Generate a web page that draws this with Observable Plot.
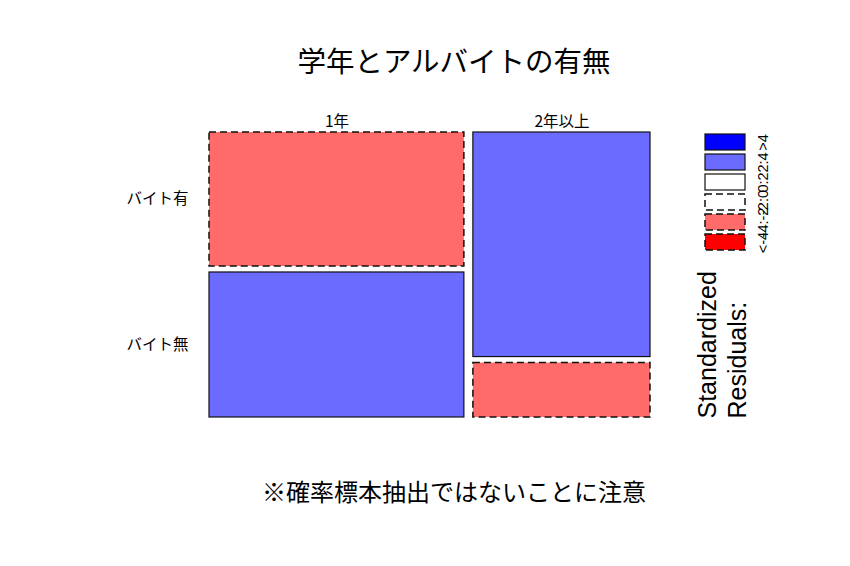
<!DOCTYPE html>
<html>
<head>
<meta charset="utf-8">
<script src="https://cdn.jsdelivr.net/npm/d3@7"></script>
<script src="https://cdn.jsdelivr.net/npm/@observablehq/plot@0.6"></script>
<style>
  body { margin: 0; background: #fff; }
  #wrap { position: relative; width: 850px; height: 566px; background: #fff; }
  .title { height: 100px; box-sizing: border-box; padding-top: 45px; padding-left: 58px;
           text-align: center; font-family: "Noto Sans CJK JP", sans-serif; font-size: 28.5px; line-height: 30px; color: #000; }
  .caption { box-sizing: border-box; padding-top: 19px; padding-left: 58px; text-align: center;
           font-family: "Noto Sans CJK JP", sans-serif; font-size: 24px; line-height: 24px; color: #000; }
</style>
</head>
<body>
<div id="wrap"></div>
<script>
// ---- data ----
const title = "学年とアルバイトの有無";
const caption = "※確率標本抽出ではないことに注意";
const years = ["1年", "2年以上"];
const jobs = ["バイト有", "バイト無"];
const withJob = [85, 99];      // バイト有 by year
const withoutJob = [92, 24];   // バイト無 by year
const legendLabels = [">4", "2:4", "0:2", "-2:0", "-4:-2", "<-4"];
const legendFills = ["#0000FF", "#6B6BFF", "#FFFFFF", "#FFFFFF", "#FF6B6B", "#FF0000"];
const legendDashed = [false, false, false, true, true, true];
const legendTitle = "Standardized\nResiduals:";

// ---- mosaic computation ----
const counts = [withJob, withoutJob];
const colTot = years.map((_, j) => d3.sum(counts, r => r[j]));
const rowTot = counts.map(r => d3.sum(r));
const N = d3.sum(colTot);
const gx = 9 / 441, gy = 6 / 285;
const cls = r => r > 4 ? ">4" : r > 2 ? "2:4" : r > 0 ? "0:2" : r > -2 ? "-2:0" : r > -4 ? "-4:-2" : "<-4";
const fillOf = c => legendFills[legendLabels.indexOf(c)];
const dashOf = c => legendDashed[legendLabels.indexOf(c)];
const cells = [];
const colLabels = [];
let xAcc = 0;
years.forEach((yr, j) => {
  const w = colTot[j] / N * (1 - gx * (years.length - 1));
  let yAcc = 0;
  jobs.forEach((jb, i) => {
    const h = counts[i][j] / colTot[j] * (1 - gy * (jobs.length - 1));
    const e = rowTot[i] * colTot[j] / N;
    const r = (counts[i][j] - e) / Math.sqrt(e);
    const c = cls(r);
    cells.push({year: yr, job: jb, col: j, x1: xAcc, x2: xAcc + w, y1: yAcc, y2: yAcc + h,
                mid: yAcc + h / 2, cls: c, fill: fillOf(c), dashed: dashOf(c)});
    yAcc += h + gy;
  });
  colLabels.push({label: yr, mid: xAcc + w / 2});
  xAcc += w + gx;
});
const rowLabels = cells.filter(d => d.col === 0).map(d => ({label: d.job, mid: d.mid}));

const jpFont = "'Noto Sans CJK JP', sans-serif";
const rectOpts = {x1: "x1", x2: "x2", y1: "y1", y2: "y2", fill: "fill", stroke: "#111", strokeWidth: 1.2};

const main = Plot.plot({
  width: 850, height: 360, margin: 0,
  style: {fontFamily: jpFont, background: "transparent"},
  x: {domain: [0, 1], range: [209, 650], axis: null},
  y: {domain: [0, 1], range: [32, 317], axis: null},
  color: {type: "identity"},
  marks: [
    Plot.rect(cells.filter(d => !d.dashed), rectOpts),
    Plot.rect(cells.filter(d => d.dashed), {...rectOpts, strokeDasharray: "7,4", strokeWidth: 1.5}),
    Plot.text(colLabels, {x: "mid", y: () => 0, dy: -10, text: "label", fontSize: 15.5, fill: "#000"}),
    Plot.text(rowLabels, {x: () => 0, y: "mid", dx: -21, text: "label", textAnchor: "end", fontSize: 15.5, fill: "#000"})
  ]
});

const legendData = legendLabels.map((l, i) => ({label: l, fill: legendFills[i], dashed: legendDashed[i]}));
const barOpts = {x1: () => 0, x2: () => 1, y: "label", fill: "fill", stroke: "#111", strokeWidth: 1.2};
const legend = Plot.plot({
  width: 160, height: 360, marginLeft: 31, marginBottom: 42, marginTop: 0, marginRight: 0,
  style: {fontFamily: "'Liberation Sans', Arial, sans-serif", background: "transparent"},
  x: {domain: [0, 1], range: [15, 55], axis: null},
  y: {type: "band", domain: legendLabels, range: [32, 152.5], paddingInner: 0.18, paddingOuter: 0, axis: null},
  color: {type: "identity"},
  marks: [
    Plot.barX(legendData.filter(d => !d.dashed), barOpts),
    Plot.barX(legendData.filter(d => d.dashed), {...barOpts, strokeDasharray: "7,4", strokeWidth: 1.5}),
    Plot.text(legendData, {x: () => 1, y: "label", dx: 18, text: "label", rotate: -90, fontSize: 14.5, fill: "#000"}),
    Plot.text([legendTitle], {frameAnchor: "bottom-left", text: d => d, rotate: -90, textAnchor: "start",
                              lineAnchor: "middle", fontSize: 25, lineHeight: 1.2, fill: "#000"})
  ]
});

const wrap = document.getElementById("wrap");
const t = document.createElement("div"); t.className = "title"; t.textContent = title;
const c = document.createElement("div"); c.className = "caption"; c.textContent = caption;
wrap.appendChild(t);
wrap.appendChild(main);
wrap.appendChild(c);
legend.style.position = "absolute";
legend.style.left = "690px";
legend.style.top = "100px";
wrap.appendChild(legend);
</script>
</body>
</html>
